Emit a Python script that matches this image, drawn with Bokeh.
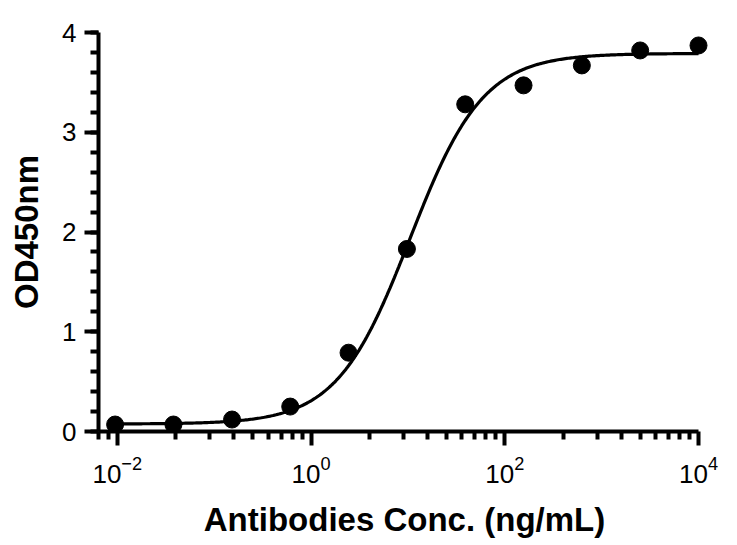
import numpy as np
from bokeh.plotting import figure
from bokeh.models import FixedTicker, SingleIntervalTicker, Range1d
from bokeh.embed import file_html
from bokeh.resources import INLINE

# Data (4-fold dilution series, ng/mL) and OD450nm readings
conc = [10000, 2500, 625, 156.25, 39.06, 9.77, 2.44, 0.61, 0.153, 0.038, 0.0095]
od450 = [3.87, 3.82, 3.67, 3.47, 3.28, 1.83, 0.79, 0.25, 0.12, 0.07, 0.07]

# Four-parameter logistic fit parameters
fit_bottom = 0.075
fit_top = 3.79
fit_ec50 = 10.5
fit_hill = 1.15

x_major = [1e-2, 1e0, 1e2, 1e4]
y_major = [0, 1, 2, 3, 4]

FONT = "Liberation Sans"

x_lo, x_hi, x_axis_end = 0.0064, 13300, 1e4

p = figure(width=720, height=540, x_axis_type="log",
           x_range=Range1d(x_lo, x_hi), y_range=Range1d(0, 4),
           output_backend="svg", toolbar_location=None,
           min_border_left=98, min_border_right=10,
           min_border_top=32, min_border_bottom=108)
p.outline_line_color = None
p.grid.visible = False
p.background_fill_color = "white"
p.border_fill_color = "white"

# fitted curve
xs = np.logspace(np.log10(conc[-1]), np.log10(conc[0]), 400)
ys = fit_bottom + (fit_top - fit_bottom) / (1 + (fit_ec50 / xs) ** fit_hill)
p.line(xs, ys, line_color="black", line_width=3.2)

# data points
p.scatter(conc, od450, size=17, fill_color="black", line_color="black")

# x axis ticks: majors every 2 decades, minors subdividing like a log decade
minor = []
for base in [1e-4, 1e-2, 1e0, 1e2]:
    for k in range(2, 10):
        v = base * k * k
        if x_lo * 0.999 <= v <= x_axis_end:
            minor.append(v)
xa = p.xaxis[0]
xa.ticker = FixedTicker(ticks=x_major, minor_ticks=minor)
xa.bounds = (x_lo, x_axis_end)

ya = p.yaxis[0]
ya.ticker = SingleIntervalTicker(interval=1, num_minor_ticks=5)

for ax in (xa, ya):
    ax.axis_line_width = 4
    ax.axis_line_color = "black"
    ax.major_tick_line_width = 4
    ax.minor_tick_line_width = 4
    ax.major_tick_line_color = "black"
    ax.minor_tick_line_color = "black"
    ax.major_tick_in = 0
    ax.minor_tick_in = 0
    ax.major_tick_out = 14
    ax.minor_tick_out = 8
    ax.major_label_text_font = FONT
    ax.major_label_text_font_size = "26px"
    ax.major_label_text_color = "black"
    ax.axis_label_text_font = FONT
    ax.axis_label_text_font_style = "bold"
    ax.axis_label_text_color = "black"

xa.axis_label = "Antibodies Conc. (ng/mL)"
xa.axis_label_text_font_size = "33px"
xa.major_label_standoff = 10
xa.axis_label_standoff = 15

ya.axis_label = "OD450nm"
ya.axis_label_text_font_size = "33px"
ya.major_label_standoff = 8
ya.axis_label_standoff = 14

open("out.html", "w").write(file_html(p, INLINE))
